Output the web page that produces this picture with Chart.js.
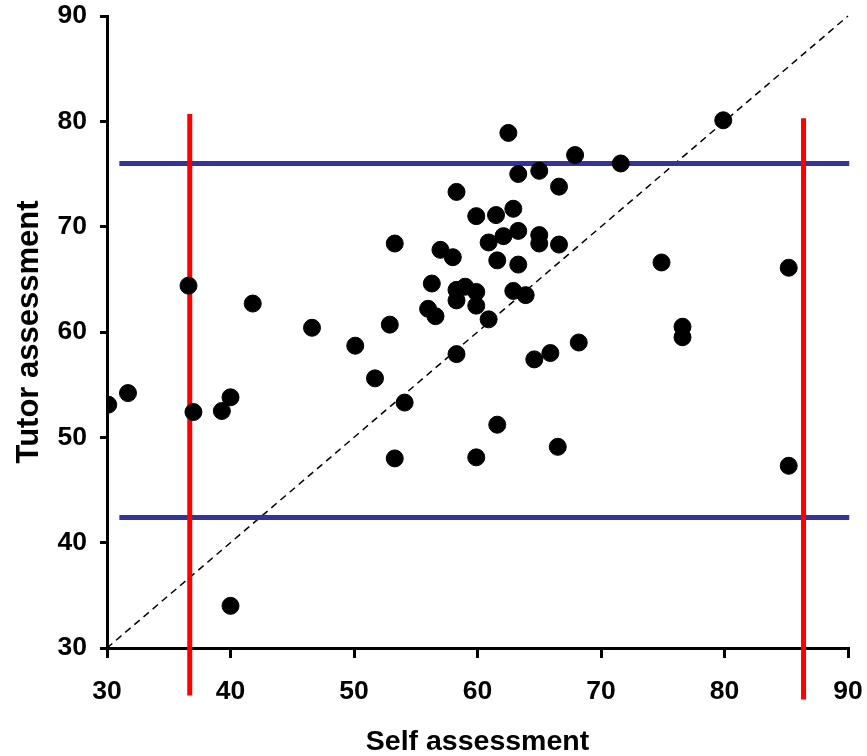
<!DOCTYPE html>
<html lang="en">
<head>
    <meta charset="UTF-8">
    <title>Self vs tutor assessment</title>
    <style>
        body {
            margin: 0;
            background-color: #ffffff;
        }
    </style>
</head>
<body>
    <canvas id="myChart" width="867" height="756"></canvas>

    <script src="https://cdn.jsdelivr.net/npm/chart.js"></script>
    <script>
        // self assessment (x) and tutor assessment (y) for each student
        var selfScores = [
            30.1, 31.7, 36.6, 37.0, 39.3, 40.0, 41.8, 46.6, 40.0,
            50.1, 51.7, 52.9, 53.3, 53.3, 54.1, 56.0, 56.6, 56.3, 57.0,
            58.0, 58.3, 58.3, 59.0, 59.9, 58.3, 59.9, 58.3, 59.9, 59.9,
            60.9, 60.9, 61.5, 61.6, 61.6, 62.1, 62.5, 62.9, 62.9, 63.3,
            63.3, 63.3, 63.9, 64.6, 65.0, 65.0, 65.0, 65.9, 66.6, 66.6,
            66.5, 67.9, 68.2,
            71.6, 74.9, 76.6, 76.6, 79.9, 85.2, 85.2
        ];
        var tutorScores = [
            53.1, 54.2, 64.4, 52.4, 52.5, 53.8, 62.7, 60.4, 34.0,
            58.7, 55.6, 60.7, 68.4, 48.0, 53.3, 62.2, 61.5, 64.6, 67.8,
            67.1, 73.3, 64.0, 64.3, 63.8, 63.0, 62.5, 57.9, 71.0, 48.1,
            68.5, 61.2, 71.1, 66.8, 51.2, 69.1, 78.9, 71.7, 63.9, 75.0,
            69.6, 66.4, 63.5, 57.4, 75.3, 69.2, 68.4, 58.0, 73.8, 68.3,
            49.1, 76.8, 59.0,
            76.0, 66.6, 60.5, 59.5, 80.1, 66.1, 47.3
        ];

        // reference lines
        var diagonal = [30, 90];
        var tutorLimits = [76.0, 42.4];      // horizontal blue lines
        var tutorLimitSpan = [31.0, 90.1];
        var selfLimits = [36.7, 86.4];       // vertical red lines
        var selfLimitSpans = [[25.5, 80.7], [25.1, 80.3]];

        var students = selfScores.map(function (x, i) {
            return { x: x, y: tutorScores[i] };
        });

        function hLine(y) {
            return tutorLimitSpan.map(function (x) { return { x: x, y: y }; });
        }
        function vLine(x, span) {
            return span.map(function (y) { return { x: x, y: y }; });
        }

        var datasets = [{
            label: 'Students',
            data: students,
            backgroundColor: '#000000',
            borderColor: '#000000',
            pointRadius: 8.5,
            pointHoverRadius: 8.5,
            order: 0
        }];

        selfLimits.forEach(function (x, i) {
            datasets.push({
                type: 'line',
                data: vLine(x, selfLimitSpans[i]),
                borderColor: '#ff0000',
                borderWidth: 5,
                pointRadius: 0,
                clip: false,
                order: 1
            });
        });

        tutorLimits.forEach(function (y) {
            datasets.push({
                type: 'line',
                data: hLine(y),
                borderColor: '#333399',
                borderWidth: 5,
                pointRadius: 0,
                clip: false,
                order: 2
            });
        });

        datasets.push({
            type: 'line',
            data: diagonal.map(function (v) { return { x: v, y: v }; }),
            borderColor: '#000000',
            borderWidth: 1.5,
            borderDash: [7, 5],
            pointRadius: 0,
            clip: false,
            order: 3
        });

        var tickFont = { family: '"Liberation Sans", Arial, sans-serif', size: 26.5, weight: 'bold' };

        new Chart(document.getElementById('myChart'), {
            type: 'scatter',
            data: { datasets: datasets },
            options: {
                responsive: false,
                animation: false,
                layout: { padding: { top: 16, right: 19, left: 0, bottom: 0 } },
                plugins: {
                    legend: { display: false },
                    tooltip: { enabled: false }
                },
                scales: {
                    x: {
                        type: 'linear',
                        min: 30,
                        max: 90,
                        afterFit: function (scale) {
                            scale.height = 108;
                            scale.paddingLeft = 0;
                            scale.paddingRight = 0;
                        },
                        ticks: { stepSize: 10, color: '#000000', font: tickFont, padding: 18 },
                        grid: { drawOnChartArea: false, drawTicks: true, tickLength: 10, color: '#000000', lineWidth: 3 },
                        border: { display: true, color: '#000000', width: 3 },
                        title: {
                            display: true,
                            text: 'Self assessment',
                            color: '#000000',
                            font: { family: '"Liberation Sans", Arial, sans-serif', size: 28.5, weight: 'bold', lineHeight: 1 },
                            padding: { top: 0, bottom: 0 }
                        }
                    },
                    y: {
                        type: 'linear',
                        min: 30,
                        max: 90,
                        afterFit: function (scale) {
                            scale.width = 107;
                            scale.paddingTop = 0;
                            scale.paddingBottom = 0;
                        },
                        ticks: { stepSize: 10, color: '#000000', font: tickFont, padding: 13 },
                        grid: { drawOnChartArea: false, drawTicks: true, tickLength: 7, color: '#000000', lineWidth: 3 },
                        border: { display: true, color: '#000000', width: 3 },
                        title: {
                            display: true,
                            text: 'Tutor assessment',
                            color: '#000000',
                            font: { family: '"Liberation Sans", Arial, sans-serif', size: 31, weight: 'bold', lineHeight: 1 },
                            padding: { top: 14, bottom: 0 }
                        }
                    }
                }
            }
        });
    </script>
</body>
</html>
